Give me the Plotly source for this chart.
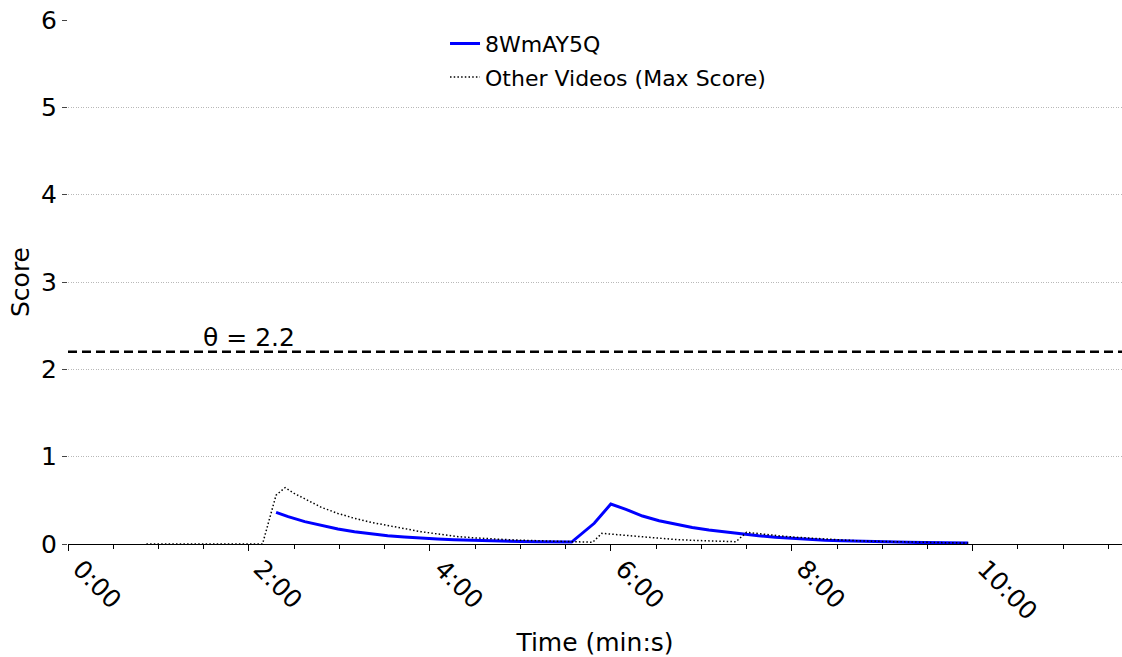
import plotly.graph_objects as go

# Score of the query video over time (seconds)
video_t = [138, 146, 157, 168, 179, 190, 201, 212, 223, 234, 245, 256, 267, 278, 289, 300,
           311, 322, 334, 349, 360, 370, 381, 392, 403, 414, 425, 436, 447, 458, 469, 480,
           491, 502, 513, 524, 535, 546, 557, 568, 579, 590, 597]
video_score = [0.363, 0.313, 0.256, 0.210, 0.172, 0.141, 0.115, 0.095, 0.080, 0.066, 0.057,
               0.048, 0.041, 0.036, 0.032, 0.028, 0.026, 0.024, 0.022, 0.237, 0.458, 0.397,
               0.320, 0.267, 0.225, 0.190, 0.160, 0.136, 0.113, 0.095, 0.078, 0.064, 0.053,
               0.043, 0.036, 0.030, 0.026, 0.022, 0.019, 0.016, 0.014, 0.012, 0.011]

# Maximum score over all other videos
other_t = [52, 129, 138, 144, 150, 157, 168, 179, 190, 201, 212, 223, 234, 245, 259, 270,
           281, 292, 303, 314, 325, 336, 348, 354, 359, 370, 381, 392, 403, 414, 425, 436,
           443, 450, 461, 472, 483, 494, 505, 516, 527, 538, 549, 560, 571, 582, 597]
other_score = [0.0, 0.0, 0.56, 0.645, 0.58, 0.515, 0.42, 0.35, 0.294, 0.248, 0.21, 0.18,
               0.141, 0.115, 0.084, 0.070, 0.057, 0.049, 0.042, 0.036, 0.031, 0.027, 0.020,
               0.122, 0.115, 0.095, 0.077, 0.061, 0.051, 0.042, 0.036, 0.031, 0.026, 0.134,
               0.111, 0.093, 0.077, 0.064, 0.054, 0.044, 0.034, 0.029, 0.025, 0.021, 0.018,
               0.015, 0.011]

THETA = 2.2
x_tickvals = [0, 120, 240, 360, 480, 600]
x_ticktext = ["0:00", "2:00", "4:00", "6:00", "8:00", "10:00"]
y_tickvals = [0, 1, 2, 3, 4, 5, 6]

FONT = "DejaVu Sans"

fig = go.Figure()
fig.add_trace(go.Scatter(
    x=video_t, y=video_score, mode="lines", name="8WmAY5Q", legendgroup="a",
    line=dict(color="#0000ff", width=3),
))
fig.add_trace(go.Scatter(
    x=other_t, y=other_score, mode="lines", name="Other Videos (Max Score)", legendgroup="b",
    line=dict(color="black", width=1.5, dash="1.5px,2.2px"),
))

# Detection threshold
fig.add_shape(type="line", xref="paper", x0=0, x1=1, yref="y", y0=THETA, y1=THETA,
              line=dict(color="black", width=2.5, dash="9px,5px"))
fig.add_annotation(x=88, y=THETA, xref="x", yref="y", text=f"θ = {THETA}",
                   showarrow=False, xanchor="left", yanchor="bottom", yshift=-2,
                   font=dict(family=FONT, size=25, color="black"))

fig.update_layout(
    width=1122, height=657,
    margin=dict(l=68, r=0, t=20, b=113),
    paper_bgcolor="white", plot_bgcolor="white",
    font=dict(family=FONT, color="black", size=25),
    showlegend=True,
    legend=dict(x=0.3577, y=0.995, xanchor="left", yanchor="top", tracegroupgap=2,
                bgcolor="rgba(0,0,0,0)", font=dict(family=FONT, size=22)),
)

fig.update_xaxes(
    range=[0, 699], automargin=False,
    tickmode="array", tickvals=x_tickvals, ticktext=x_ticktext, tickangle=45,
    tickfont=dict(family=FONT, size=25), ticklabelshift=12, ticklabelstandoff=-7,
    ticks="outside", ticklen=6, tickwidth=1, tickcolor="black",
    minor=dict(tickmode="linear", tick0=0, dtick=30, ticks="outside", ticklen=4,
               tickwidth=1, tickcolor="black", showgrid=False),
    showline=True, linecolor="black", linewidth=1.2,
    showgrid=False, zeroline=False,
    title=dict(text="Time (min:s)", font=dict(family=FONT, size=25), standoff=8),
)
fig.update_yaxes(
    range=[0, 6], automargin=False,
    tickmode="array", tickvals=y_tickvals,
    tickfont=dict(family=FONT, size=25),
    ticks="outside", ticklen=5, tickwidth=1, tickcolor="#444444",
    showline=False, zeroline=False,
    showgrid=True, gridcolor="#b8b8b8", gridwidth=0.8, griddash="1px,1.5px",
    title=dict(text="Score", font=dict(family=FONT, size=25), standoff=4),
)

fig.write_html("out.html")
